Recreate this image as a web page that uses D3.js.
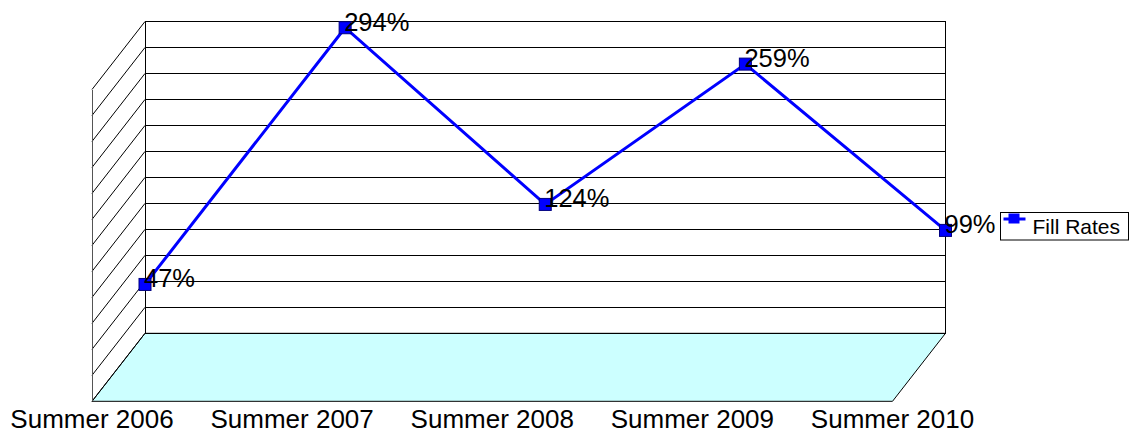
<!DOCTYPE html>
<html>
<head>
<meta charset="utf-8">
<script src="https://cdn.jsdelivr.net/npm/d3@7"></script>
<style>
  body { margin: 0; background: #fff; }
  text { font-family: "Liberation Sans", Arial, sans-serif; fill: #000; }
</style>
</head>
<body>
<div id="chart"></div>
<script>
// data
const categories = ['Summer 2006', 'Summer 2007', 'Summer 2008', 'Summer 2009', 'Summer 2010'];
const fillRates = [0.47, 2.94, 1.24, 2.59, 0.99];
const seriesName = 'Fill Rates';
const yTicks = d3.range(0, 3.0001, 0.25);

// settings
const width = 1132;
const height = 434;
const wall = { left: 145, right: 945.5, top: 21.5, bottom: 333.3 };
const depth = { dx: -53, dy: 68 };
const floorColor = '#ccffff';
const lineColor = '#0000ff';

const svg = d3.select('#chart')
  .append('svg')
  .attr('width', width)
  .attr('height', height);

const x = d3.scalePoint()
  .domain(categories)
  .range([wall.left, wall.right]);

const y = d3.scaleLinear()
  .domain([0, 3])
  .range([wall.bottom, wall.top]);

// floor
const fl = wall.left, fr = wall.right, fb = wall.bottom;
svg.append('path')
  .attr('d', `M${fl},${fb}L${fr},${fb}L${fr + depth.dx},${fb + depth.dy}L${fl + depth.dx},${fb + depth.dy}Z`)
  .attr('fill', floorColor)
  .attr('stroke', '#000')
  .attr('stroke-width', 1);

// back wall grid
const grid = svg.append('g').attr('shape-rendering', 'crispEdges');
grid.selectAll('line.h')
  .data(yTicks)
  .join('line')
  .attr('class', 'h')
  .attr('x1', wall.left)
  .attr('x2', wall.right)
  .attr('y1', d => y(d))
  .attr('y2', d => y(d))
  .attr('stroke', '#000');

grid.selectAll('line.v')
  .data([wall.left, wall.right])
  .join('line')
  .attr('class', 'v')
  .attr('x1', d => d)
  .attr('x2', d => d)
  .attr('y1', wall.top)
  .attr('y2', wall.bottom)
  .attr('stroke', '#000');

// side wall
const side = svg.append('g');
side.selectAll('line')
  .data(yTicks)
  .join('line')
  .attr('x1', wall.left + depth.dx)
  .attr('y1', d => y(d) + depth.dy)
  .attr('x2', wall.left)
  .attr('y2', d => y(d))
  .attr('stroke', '#000')
  .attr('stroke-width', 1);
side.append('line')
  .attr('x1', wall.left + depth.dx)
  .attr('x2', wall.left + depth.dx)
  .attr('y1', y(3) + depth.dy)
  .attr('y2', y(0) + depth.dy)
  .attr('stroke', '#555')
  .attr('shape-rendering', 'crispEdges');

// category labels
svg.append('g')
  .selectAll('text')
  .data(categories)
  .join('text')
  .attr('x', d => x(d) + depth.dx)
  .attr('y', 428)
  .attr('text-anchor', 'middle')
  .attr('font-size', 26)
  .text(d => d);

// series line
const pts = categories.map((c, i) => [x(c), y(fillRates[i])]);
svg.append('path')
  .attr('d', d3.line()(pts))
  .attr('fill', 'none')
  .attr('stroke', lineColor)
  .attr('stroke-width', 3);

svg.append('g')
  .selectAll('rect')
  .data(pts)
  .join('rect')
  .attr('x', d => d[0] - 6)
  .attr('y', d => d[1] - 6)
  .attr('width', 12)
  .attr('height', 12)
  .attr('fill', lineColor)
  .attr('stroke', '#000080')
  .attr('stroke-width', 1);

// data labels
svg.append('g')
  .selectAll('text')
  .data(fillRates)
  .join('text')
  .attr('x', (d, i) => x(categories[i]) - 1)
  .attr('y', d => y(d) + 3)
  .attr('font-size', 25.5)
  .text(d => d3.format('.0%')(d));

// legend
const legend = svg.append('g').attr('transform', 'translate(1000.5, 212.5)');
legend.append('rect')
  .attr('width', 128)
  .attr('height', 27.5)
  .attr('fill', '#fff')
  .attr('stroke', '#000');
legend.append('line')
  .attr('x1', 3).attr('x2', 25)
  .attr('y1', 6.5).attr('y2', 6.5)
  .attr('stroke', lineColor)
  .attr('stroke-width', 3);
legend.append('rect')
  .attr('x', 8).attr('y', 1)
  .attr('width', 11).attr('height', 10)
  .attr('fill', lineColor);
legend.append('text')
  .attr('x', 32)
  .attr('y', 21)
  .attr('font-size', 21)
  .text(seriesName);
</script>
</body>
</html>
